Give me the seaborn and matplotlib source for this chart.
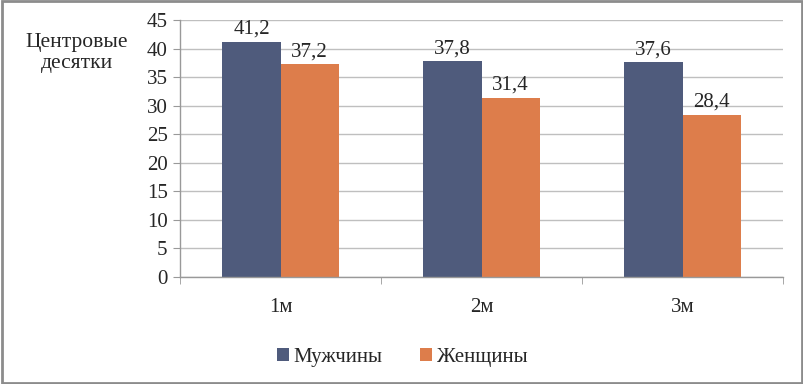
import matplotlib
matplotlib.use("Agg")
import matplotlib.pyplot as plt
import seaborn as sns
import pandas as pd
from matplotlib.ticker import FixedLocator

# Data
categories = ["1м", "2м", "3м"]
men = [41.2, 37.8, 37.6]
women = [37.2, 31.4, 28.4]
series_names = ["Мужчины", "Женщины"]
colors = ["#4F5B7C", "#DD7D4B"]

df = pd.DataFrame({
    "cat": categories * 2,
    "value": men + women,
    "series": [series_names[0]] * 3 + [series_names[1]] * 3,
})

FONT = "Liberation Serif"
sns.set_style("white")
plt.rcParams["font.family"] = FONT

fig = plt.figure(figsize=(8.04, 3.84), dpi=100)
ax = fig.add_axes([0.224, 0.279, 0.750, 0.669])

sns.barplot(data=df, x="cat", y="value", hue="series", palette=colors,
            width=0.58, gap=0, saturation=1, linewidth=0, ax=ax, legend=True)

ax.set_ylim(0, 45)
ax.set_yticks(range(0, 46, 5))
ax.set_xlim(-0.5, 2.5)
ax.yaxis.grid(True, color="#BFBFBF", linewidth=1)
ax.set_axisbelow(True)
for s in ["top", "right"]:
    ax.spines[s].set_visible(False)
for s in ["left", "bottom"]:
    ax.spines[s].set_color("#999999")
    ax.spines[s].set_linewidth(1)

ax.tick_params(axis="y", labelsize=15, length=5, color="#999999", left=True, pad=4)
ax.tick_params(axis="x", labelsize=15, length=0, pad=15)
ax.xaxis.set_minor_locator(FixedLocator([-0.5, 0.5, 1.5, 2.5]))
ax.tick_params(axis="x", which="minor", length=5, color="#999999", bottom=True)

for c in ax.containers:
    ax.bar_label(c, labels=[f"{v:.1f}".replace(".", ",") for v in c.datavalues],
                 fontsize=15, padding=2)

ax.set_xlabel("")
ax.set_ylabel("")
fig.text(0.096, 0.862, "Центровые\nдесятки", ha="center", va="center",
         fontsize=15.5, linespacing=1.2)

handles, labels = ax.get_legend_handles_labels()
ax.legend_.remove()
fig.legend(handles, labels, loc="center", bbox_to_anchor=(0.5, 0.07), ncol=2,
           frameon=False, fontsize=15,
           handlelength=0.6, handleheight=0.6, handletextpad=0.2, columnspacing=1.8)

fig.patches.append(plt.Rectangle((0.002, 0.003), 0.996, 0.994, transform=fig.transFigure,
                                 fill=False, edgecolor="#8C8C8C", linewidth=2))

fig.savefig("out.png", dpi=100)
